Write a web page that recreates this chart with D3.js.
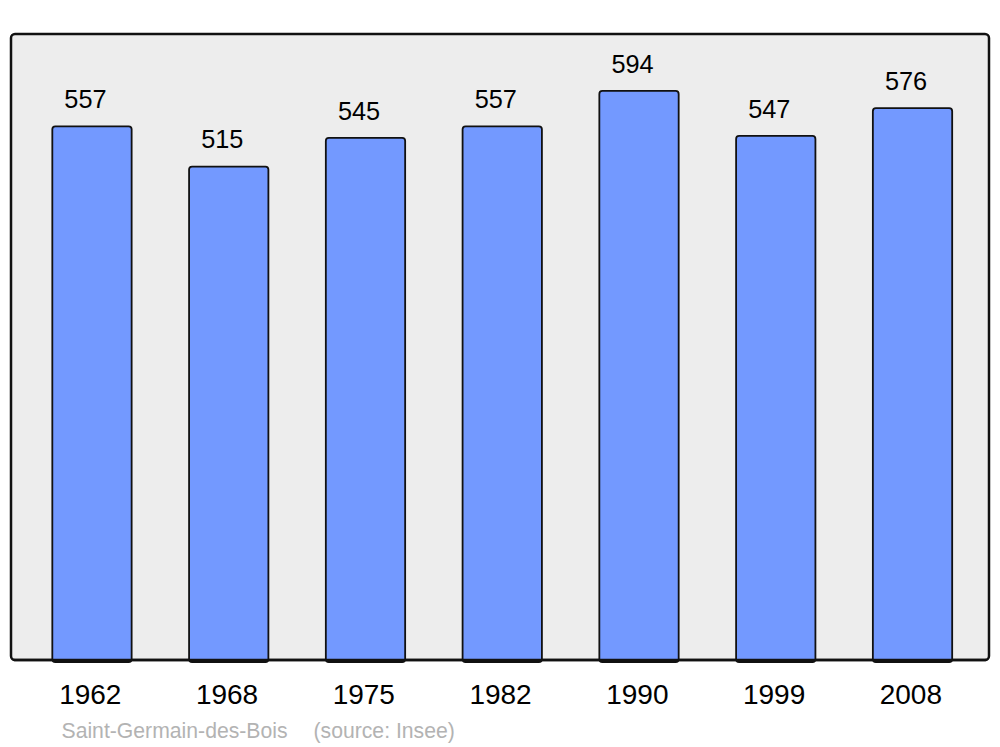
<!DOCTYPE html>
<html><head><meta charset="utf-8">
<script src="https://cdn.jsdelivr.net/npm/d3@7"></script>
<style>html,body{margin:0;padding:0;background:#fff;}svg{display:block;}</style>
</head><body>
<script>
const years = ["1962","1968","1975","1982","1990","1999","2008"];
const population = [557,515,545,557,594,547,576];
const commune = "Saint-Germain-des-Bois";
const source = "(source: Insee)";

const W = 1000, H = 747;
const svg = d3.select("body").append("svg").attr("width", W).attr("height", H);

const frame = {x0: 11, y0: 34, x1: 989, y1: 660};

svg.append("rect")
  .attr("x", frame.x0).attr("y", frame.y0)
  .attr("width", frame.x1 - frame.x0).attr("height", frame.y1 - frame.y0)
  .attr("rx", 4).attr("ry", 4)
  .attr("fill", "#ededed").attr("stroke", "#111").attr("stroke-width", 2.5);

const x = d3.scaleBand().domain(years).range([23.6, 980.9]).paddingInner(0.42).paddingOuter(0.21);
const y = d3.scaleLinear().domain([0, d3.max(population) * 1.1]).range([frame.y1, frame.y0]);

const data = years.map((yr, i) => ({yr, v: population[i]}));

svg.append("g").selectAll("rect").data(data).join("rect")
  .attr("x", d => x(d.yr)).attr("y", d => y(d.v))
  .attr("width", x.bandwidth()).attr("height", d => y(0) - y(d.v) + 2)
  .attr("rx", 3).attr("ry", 3)
  .attr("fill", "#7399ff").attr("stroke", "#111").attr("stroke-width", 1.8);

svg.append("line")
  .attr("x1", frame.x0 + 3).attr("x2", frame.x1 - 3)
  .attr("y1", frame.y1).attr("y2", frame.y1)
  .attr("stroke", "#111").attr("stroke-width", 2.5);

svg.append("g").selectAll("text").data(data).join("text")
  .attr("x", d => x(d.yr) + x.bandwidth() / 2 - 6.5)
  .attr("y", d => y(d.v) - 18.3)
  .attr("text-anchor", "middle")
  .attr("font-family", "Liberation Sans, Arial, sans-serif")
  .attr("font-size", 25.3).attr("fill", "#000")
  .text(d => d.v);

const xAxis = svg.append("g").attr("transform", `translate(0,${frame.y1})`)
  .call(d3.axisBottom(x).tickSize(0).tickPadding(0));
xAxis.select(".domain").remove();
xAxis.selectAll("text")
  .attr("y", 44.3).attr("dy", 0).attr("dx", -1.7)
  .attr("font-family", "Liberation Sans, Arial, sans-serif")
  .attr("font-size", 28).attr("fill", "#000");

svg.append("text").attr("x", 61.5).attr("y", 737.5)
  .attr("font-family", "Liberation Sans, Arial, sans-serif")
  .attr("font-size", 21.2).attr("fill", "#b3b3b3")
  .text(commune);
svg.append("text").attr("x", 313.5).attr("y", 737.5)
  .attr("font-family", "Liberation Sans, Arial, sans-serif")
  .attr("font-size", 21.2).attr("fill", "#b3b3b3")
  .text(source);
</script>
</body></html>
